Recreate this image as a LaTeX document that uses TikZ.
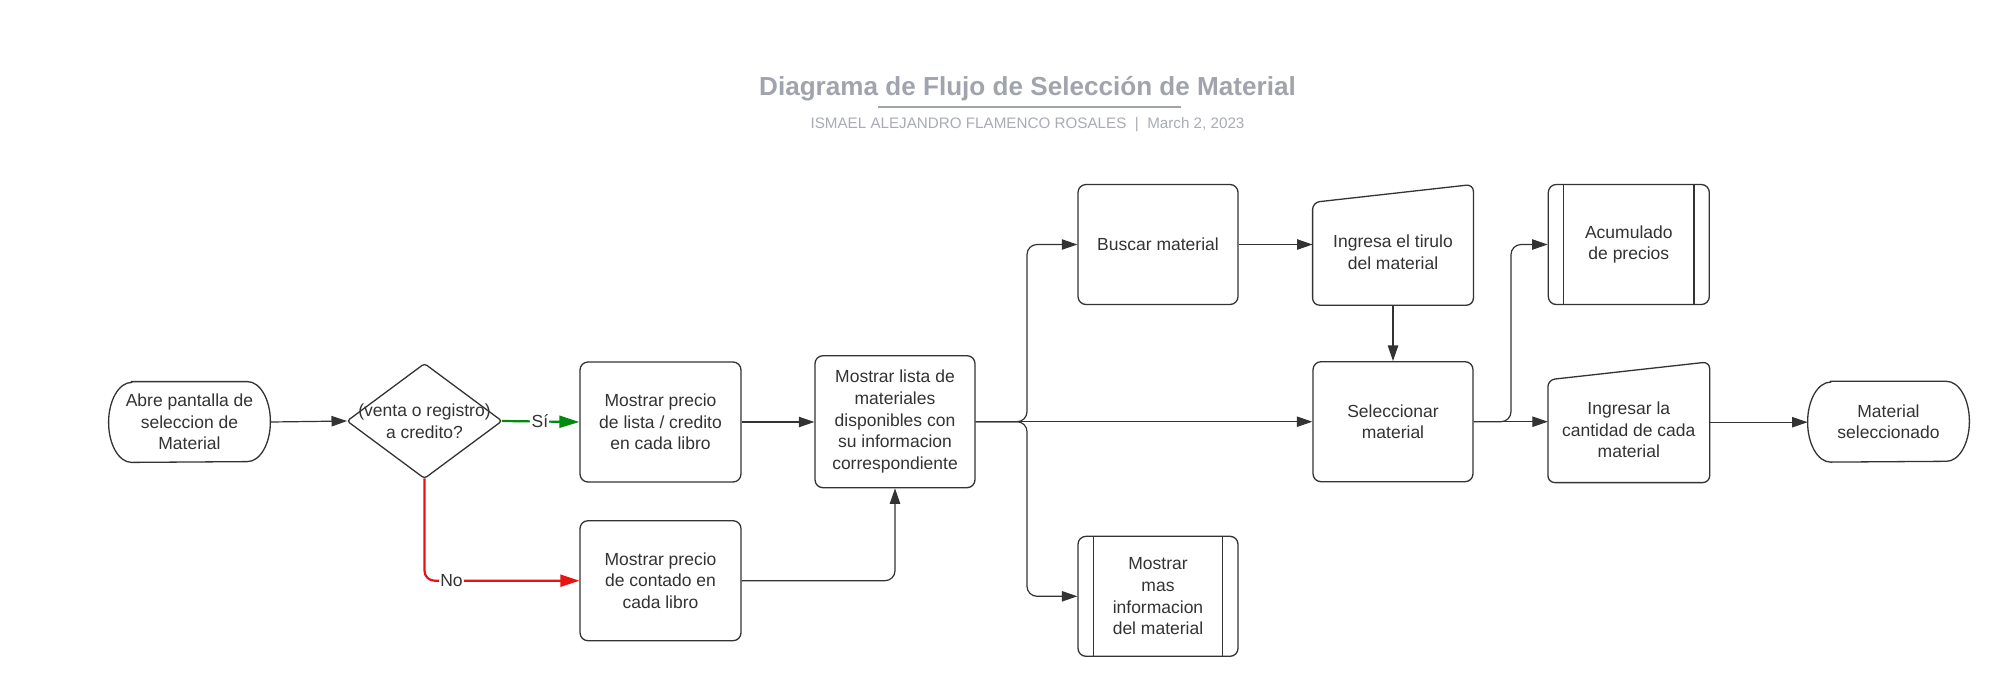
\documentclass[tikz,border=0pt]{standalone}
\usepackage{fontspec}
\setmainfont{Liberation Sans}
\usetikzlibrary{arrows.meta,shapes.geometric,calc}
\definecolor{ink}{HTML}{333333}
\definecolor{ttl}{HTML}{A0A4AD}
\definecolor{sub}{HTML}{A9ACB3}
\definecolor{gline}{HTML}{008A0E}
\definecolor{rline}{HTML}{E81313}
\tikzset{
  txt/.style={font=\fontsize{8.75pt}{10.85pt}\selectfont, text=ink, align=center, inner sep=0pt},
  box/.style={txt, draw=ink, line width=0.65pt, rounded corners=4pt, minimum width=80.5pt, minimum height=60pt},
  frame/.style={txt, draw=none, minimum width=80.5pt, minimum height=60pt},
  outline/.style={draw=ink, line width=0.65pt},
  conn/.style={draw=ink, line width=0.6pt, rounded corners=5pt, -{Triangle[length=7.8pt,width=5.2pt]}},
  gconn/.style={draw=gline, line width=1.1pt, -{Triangle[length=10pt,width=6pt]}},
  rconn/.style={draw=rline, line width=1.1pt, rounded corners=5pt, -{Triangle[length=9.5pt,width=6pt]}},
  lbl/.style={txt, fill=white, inner sep=0.6pt}
}
\begin{document}
\begin{tikzpicture}[x=0.5pt,y=-0.5pt]
\useasboundingbox[fill=white] (0,0) rectangle (2007,697);

% title
\node[anchor=base, font=\fontsize{13.05pt}{15pt}\selectfont\bfseries, text=ttl, inner sep=0pt] (title) at (1027.5,95) {Diagrama de Flujo de Selección de Material};
\coordinate (ulA) at (878,106.7);
\coordinate (ulB) at (1181,106.7);
\draw[draw=ttl, line width=0.85pt] (ulA) -- (ulB);
\node[anchor=base, font=\fontsize{7.6pt}{9pt}\selectfont, text=sub, inner sep=0pt] (subtitle) at (1027.5,128) {ISMAEL ALEJANDRO FLAMENCO ROSALES\ \ |\ \ March 2, 2023};

% start terminal
\node[frame, minimum height=40pt] (start) at (189.5,422) {Abre pantalla de\\seleccion de\\Material};
\draw[outline] ([xshift=11.5pt]start.north west) -- ([xshift=-11.5pt]start.north east)
  arc[start angle=90,end angle=-90,x radius=11.5pt,y radius=20pt]
  -- ([xshift=11.5pt]start.south west)
  arc[start angle=270,end angle=90,x radius=11.5pt,y radius=20pt] -- cycle;

% decision
\node[frame, minimum width=77pt, minimum height=57pt] (dec) at (424.5,421) {(venta o registro)\\a credito?};
\draw[outline, rounded corners=1.5pt] (dec.north) -- (dec.east) -- (dec.south) -- (dec.west) -- cycle;

% boxes
\node[box] (lista) at (660.5,422) {Mostrar precio\\de lista / credito\\en cada libro};
\node[box] (contado) at (660.5,580.7) {Mostrar precio\\de contado en\\cada libro};
\node[box, minimum width=80pt, minimum height=66pt] (mlista) at (895,421.7) {Mostrar lista de\\materiales\\disponibles con\\su informacion\\correspondiente};
\node[box, minimum width=80pt] (buscar) at (1158,244.5) {Buscar material};
\node[box, minimum width=80pt] (selec) at (1393,421.7) {Seleccionar\\material};

% manual input: Ingresa el tirulo
\node[frame, minimum width=80pt] (ingresa) at (1393,244.8) {};
\draw[outline, rounded corners=3.5pt] ([yshift=-9pt]ingresa.north west) -- (ingresa.north east) -- (ingresa.south east) -- (ingresa.south west) -- cycle;
\node[txt] (ingresaT) at (1393,252) {Ingresa el tirulo\\del material};

% manual input: Ingresar la cantidad
\node[frame] (cant) at (1628.8,422.2) {};
\draw[outline, rounded corners=3.5pt] ([yshift=-9pt]cant.north west) -- (cant.north east) -- (cant.south east) -- (cant.south west) -- cycle;
\node[txt] (cantT) at (1628.8,430) {Ingresar la\\cantidad de cada\\material};

% subroutine: Acumulado de precios
\node[box] (acum) at (1628.8,244.5) {Acumulado\\de precios};
\draw[outline] ([xshift=8pt]acum.north west) -- ([xshift=8pt]acum.south west);
\draw[outline] ([xshift=-8pt]acum.north east) -- ([xshift=-8pt]acum.south east);

% subroutine: Mostrar mas informacion
\node[box, minimum width=80pt] (mas) at (1158,596.3) {Mostrar\\mas\\informacion\\del material};
\draw[outline] ([xshift=8pt]mas.north west) -- ([xshift=8pt]mas.south west);
\draw[outline] ([xshift=-8pt]mas.north east) -- ([xshift=-8pt]mas.south east);

% end terminal
\node[frame, minimum height=40pt] (fin) at (1888.5,421.7) {Material\\seleccionado};
\draw[outline] ([xshift=11.5pt]fin.north west) -- ([xshift=-11.5pt]fin.north east)
  arc[start angle=90,end angle=-90,x radius=11.5pt,y radius=20pt]
  -- ([xshift=11.5pt]fin.south west)
  arc[start angle=270,end angle=90,x radius=11.5pt,y radius=20pt] -- cycle;

% fork points
\coordinate (fk1) at (1027,421.7);
\coordinate (fk2) at (1511,421.7);

% connectors
\draw[conn] (start.east) -- (dec.west);
\draw[gconn] (dec.east) -- node[lbl, pos=0.49] {Sí} (lista.west);
\draw[rconn] (dec.south) |- node[lbl, pos=0.587] {No} (contado.west);
\draw[conn] (lista.east) -- (lista.east -| mlista.west);
\draw[conn] (contado.east) -| (mlista.south);
\draw[conn] (mlista.east) -- (fk1) |- (buscar.west);
\draw[conn] (mlista.east) -- (mlista.east -| selec.west);
\draw[conn] (mlista.east) -- (fk1) |- (mas.west);
\draw[conn] (buscar.east) -- (buscar.east -| ingresa.west);
\draw[conn] (ingresa.south) -- (selec.north);
\draw[conn] (selec.east) -- (selec.east -| cant.west);
\draw[conn] (selec.east) -- (fk2) |- (acum.west);
\draw[conn] (cant.east) -- (cant.east -| fin.west);
\end{tikzpicture}
\end{document}
